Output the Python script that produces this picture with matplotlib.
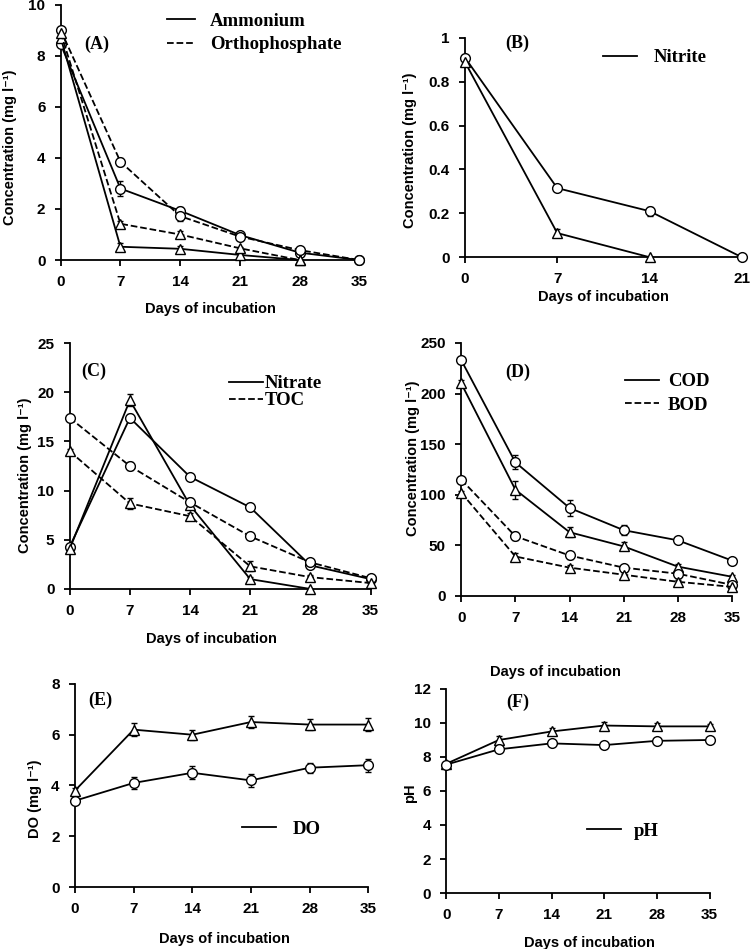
import matplotlib.pyplot as plt
from matplotlib.lines import Line2D
import numpy as np

plt.rcParams['font.family'] = ['Liberation Sans', 'DejaVu Sans']
plt.rcParams['font.weight'] = 'bold'

days = [0, 7, 14, 21, 28, 35]

# (A) ammonium / orthophosphate
amm_c = [8.45, 2.8, 1.93, 0.98, 0.29, 0.0]
amm_c_err = [0.1, 0.3, 0.15, 0.12, 0.05, 0.0]
amm_t = [8.7, 0.52, 0.44, 0.2, 0.0]
amm_t_err = [0.1, 0.15, 0.12, 0.05, 0.0]
pho_c = [9.0, 3.85, 1.72, 0.92, 0.39, 0.0]
pho_c_err = [0.1, 0.15, 0.2, 0.1, 0.05, 0.0]
pho_t = [8.9, 1.42, 1.0, 0.46, 0.0]
pho_t_err = [0.1, 0.1, 0.12, 0.05, 0.0]

# (B) nitrite
nit_c = [0.91, 0.315, 0.21, 0.0]
nit_c_err = [0.01, 0.015, 0.02, 0.0]
nit_t = [0.89, 0.11, 0.0]
nit_t_err = [0.01, 0.02, 0.0]

# (C) nitrate / TOC
no3_c = [4.3, 17.4, 11.4, 8.3, 2.4, 1.0]
no3_c_err = [0.2, 0.4, 0.2, 0.2, 0.2, 0.1]
no3_t = [4.1, 19.2, 8.5, 1.0, 0.0]
no3_t_err = [0.2, 0.6, 0.3, 0.2, 0.0]
toc_c = [17.4, 12.5, 8.8, 5.35, 2.7, 1.1]
toc_c_err = [0.2, 0.4, 0.4, 0.2, 0.2, 0.1]
toc_t = [14.0, 8.7, 7.4, 2.3, 1.2, 0.6]
toc_t_err = [0.2, 0.6, 0.3, 0.5, 0.2, 0.1]

# (D) COD / BOD
cod_c = [233, 132, 87, 65, 55, 35]
cod_c_err = [3, 7, 8, 5, 3, 2]
cod_t = [210, 105, 63, 49, 29, 19]
cod_t_err = [3, 9, 5, 4, 3, 2]
bod_c = [115, 59, 40, 28, 22, 11]
bod_c_err = [2, 4, 3, 3, 4, 2]
bod_t = [102, 39, 28, 21, 14, 9]
bod_t_err = [2, 3, 3, 3, 2, 2]

# (E) DO
do_t = [3.8, 6.2, 6.0, 6.5, 6.4, 6.4]
do_t_err = [0.1, 0.25, 0.2, 0.25, 0.2, 0.25]
do_c = [3.4, 4.1, 4.5, 4.2, 4.7, 4.8]
do_c_err = [0.1, 0.25, 0.25, 0.25, 0.2, 0.25]

# (F) pH
ph_t = [7.6, 9.0, 9.5, 9.85, 9.8, 9.8]
ph_t_err = [0.1, 0.25, 0.2, 0.2, 0.2, 0.15]
ph_c = [7.55, 8.45, 8.8, 8.7, 8.95, 9.0]
ph_c_err = [0.1, 0.15, 0.15, 0.15, 0.15, 0.1]


def series(ax, y, err, marker, ls):
    x = days[:len(y)]
    ax.errorbar(x, y, yerr=err, color='black', lw=1.3, ls=ls, marker=marker,
                mfc='white', mec='black', ms=7, mew=1.0, capsize=2.5,
                elinewidth=1.0, clip_on=False, zorder=3)


def frame(ax, xmax, ymax, ystep, ylabel, ylab_pos, xlab_pos, yfmt=None):
    ax.set_xlim(0, xmax)
    ax.set_ylim(0, ymax)
    ax.set_xticks(days[:xmax // 7 + 1])
    yt = np.arange(0, ymax + ystep / 2, ystep)
    ax.set_yticks(yt)
    if yfmt:
        ax.set_yticklabels(yfmt)
    for s in ['top', 'right']:
        ax.spines[s].set_visible(False)
    for s in ['left', 'bottom']:
        ax.spines[s].set_linewidth(1.3)
    ax.tick_params(direction='out', length=4, width=1.3, labelsize=11, pad=7)
    ax.set_ylabel(ylabel, fontsize=10.5, fontweight='bold')
    ax.yaxis.set_label_coords(*ylab_pos)
    ax.set_xlabel('Days of incubation', fontsize=10.5, fontweight='bold')
    ax.xaxis.set_label_coords(*xlab_pos)


def legend(ax, names, styles, pos, pad, hl=1.8, sp=0.35):
    h = [Line2D([0], [0], color='black', lw=1.3, ls=s) for s in styles]
    ax.legend(h, names, loc='center left', bbox_to_anchor=pos, frameon=False,
              handlelength=hl, handletextpad=pad, borderpad=0, borderaxespad=0,
              labelspacing=sp,
              prop={'family': 'Liberation Serif', 'weight': 'bold', 'size': 13.5})


def tag(ax, s, pos):
    ax.text(pos[0], pos[1], s, transform=ax.transAxes, ha='center', va='center',
            family='Liberation Serif', fontweight='bold', fontsize=13)


conc = 'Concentration (mg l\u207b\u00b9)'
fig = plt.figure(figsize=(7.5, 9.49), dpi=100)

ax = fig.add_axes([0.081, 0.726, 0.398, 0.269])
series(ax, amm_c, amm_c_err, 'o', '-')
series(ax, amm_t, amm_t_err, '^', '-')
series(ax, pho_c, pho_c_err, 'o', '--')
series(ax, pho_t, pho_t_err, '^', '--')
frame(ax, 35, 10, 2, conc, (-0.148, 0.44), (0.5, -0.165))
legend(ax, ['Ammonium', 'Orthophosphate'], ['-', '--'], (0.356, 0.89), 0.8, 1.5)
tag(ax, '(A)', (0.12, 0.843))

ax = fig.add_axes([0.62, 0.729, 0.369, 0.231])
series(ax, nit_c, nit_c_err, 'o', '-')
series(ax, nit_t, nit_t_err, '^', '-')
frame(ax, 21, 1.0, 0.2, conc, (-0.173, 0.49), (0.5, -0.151),
      ['0', '0.2', '0.4', '0.6', '0.8', '1'])
legend(ax, ['Nitrite'], ['-'], (0.498, 0.909), 0.9)
tag(ax, '(B)', (0.19, 0.977))

ax = fig.add_axes([0.093, 0.3794, 0.401, 0.259])
series(ax, no3_c, no3_c_err, 'o', '-')
series(ax, no3_t, no3_t_err, '^', '-')
series(ax, toc_c, toc_c_err, 'o', '--')
series(ax, toc_t, toc_t_err, '^', '--')
frame(ax, 35, 25, 5, conc, (-0.126, 0.463), (0.47, -0.175))
legend(ax, ['Nitrate', 'TOC'], ['-', '--'], (0.53, 0.80), 0.1, 1.8, 0.0)
tag(ax, '(C)', (0.08, 0.886))

ax = fig.add_axes([0.615, 0.372, 0.361, 0.2666])
series(ax, cod_c, cod_c_err, 'o', '-')
series(ax, cod_t, cod_t_err, '^', '-')
series(ax, bod_c, bod_c_err, 'o', '--')
series(ax, bod_t, bod_t_err, '^', '--')
frame(ax, 35, 250, 50, conc, (-0.151, 0.545), (0.347, -0.273))
legend(ax, ['COD', 'BOD'], ['-', '--'], (0.605, 0.80), 0.5)
tag(ax, '(D)', (0.21, 0.885))

ax = fig.add_axes([0.1, 0.0653, 0.391, 0.214])
series(ax, do_t, do_t_err, '^', '-')
series(ax, do_c, do_c_err, 'o', '-')
frame(ax, 35, 8, 2, 'DO (mg l\u207b\u00b9)', (-0.113, 0.433), (0.51, -0.222))
legend(ax, ['DO'], ['-'], (0.57, 0.286), 0.9)
tag(ax, '(E)', (0.085, 0.92))

ax = fig.add_axes([0.595, 0.059, 0.351, 0.215])
series(ax, ph_t, ph_t_err, '^', '-')
series(ax, ph_c, ph_c_err, 'o', '-')
frame(ax, 35, 12, 2, 'pH', (-0.11, 0.49), (0.544, -0.21))
legend(ax, ['pH'], ['-'], (0.536, 0.304), 0.7)
tag(ax, '(F)', (0.27, 0.936))

fig.savefig('out.png', dpi=100)
